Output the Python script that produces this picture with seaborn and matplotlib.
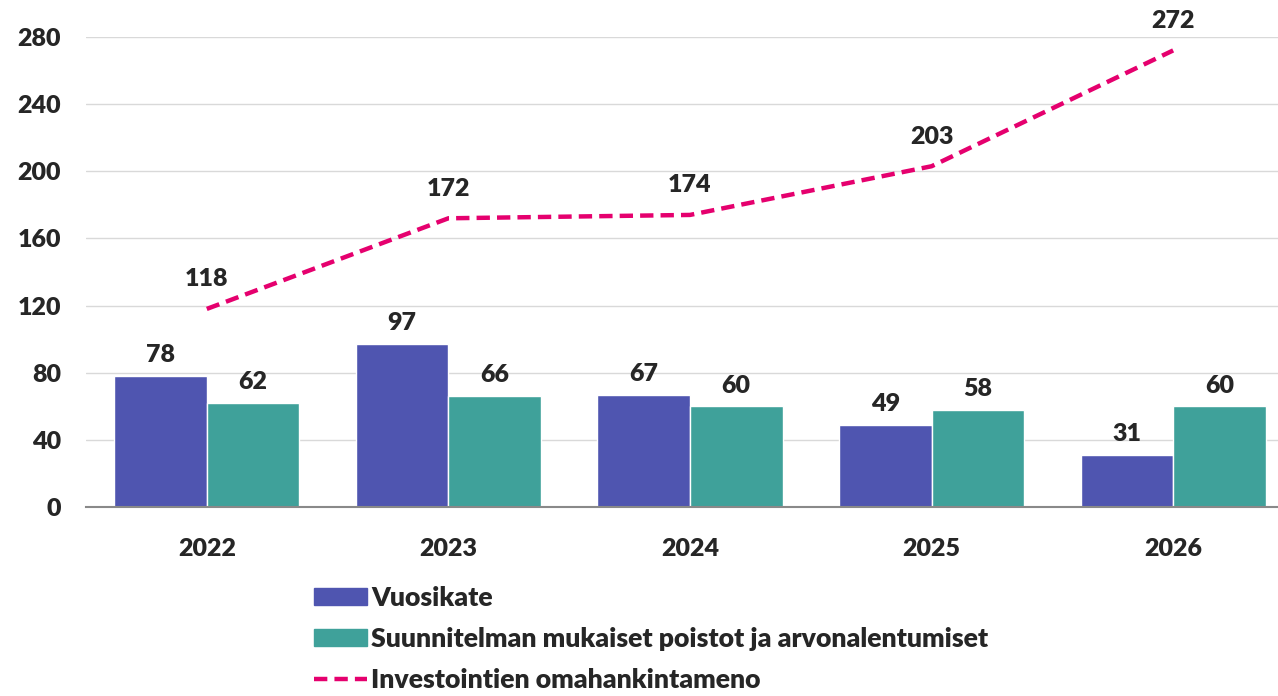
import matplotlib
matplotlib.use('Agg')
import matplotlib.pyplot as plt
from matplotlib.patches import Patch
from matplotlib.lines import Line2D
import seaborn as sns
import pandas as pd

# data
vuodet = ['2022', '2023', '2024', '2025', '2026']
vuosikate = [78, 97, 67, 49, 31]
poistot = [62, 66, 60, 58, 60]
investoinnit = [118, 172, 174, 203, 272]

sarjat = ['Vuosikate', 'Suunnitelman mukaiset poistot ja arvonalentumiset']
sarja_linja = 'Investointien omahankintameno'

c_vk = '#4F55B0'
c_po = '#3FA19A'
c_inv = '#E5006E'

sns.set_theme(style='white')
plt.rcParams['font.family'] = ['Lato', 'DejaVu Sans']
plt.rcParams['font.weight'] = 'heavy'

df = pd.DataFrame({
    'vuosi': vuodet * 2,
    'arvo': vuosikate + poistot,
    'sarja': [sarjat[0]] * 5 + [sarjat[1]] * 5,
})

fig = plt.figure(figsize=(12.78, 6.96), dpi=100)
ax = fig.add_axes([86 / 1278, 1 - 507 / 696, 1 - 86 / 1278, 470 / 696])

sns.barplot(data=df, x='vuosi', y='arvo', hue='sarja', hue_order=sarjat,
            palette=[c_vk, c_po], width=0.766, gap=0, saturation=1,
            legend=False, ax=ax, zorder=2)
sns.pointplot(x=vuodet, y=investoinnit, color=c_inv, linestyle=(0, (3, 1.6)),
              marker='', linewidth=3.2, errorbar=None, ax=ax, zorder=3)

# arvot
for cont in ax.containers:
    ax.bar_label(cont, fontsize=18, fontweight='heavy', padding=7)
for i, v in enumerate(investoinnit):
    ax.text(i, v + 11, str(v), ha='center', va='bottom',
            fontsize=18, fontweight='heavy', clip_on=False)

ax.set_ylim(0, 280)
ax.set_xlim(-0.5, 4.434)
ax.set_yticks(range(0, 281, 40))
ax.yaxis.grid(True, color='#D9D9D9', linewidth=1)
ax.set_axisbelow(True)
for s in ['top', 'right', 'left']:
    ax.spines[s].set_visible(False)
ax.spines['bottom'].set_color('#898989')
ax.spines['bottom'].set_linewidth(1.5)
ax.tick_params(axis='both', length=0, labelsize=18)
ax.tick_params(axis='x', pad=22)
ax.tick_params(axis='y', pad=18)
for t in ax.get_xticklabels() + ax.get_yticklabels():
    t.set_fontweight('heavy')
ax.set_xlabel('')
ax.set_ylabel('')

handles = [Patch(color=c_vk), Patch(color=c_po),
           Line2D([0], [0], color=c_inv, linewidth=3.2, linestyle=(0, (3, 1.6)))]
fig.legend(handles, sarjat + [sarja_linja], loc='upper left',
           bbox_to_anchor=(303 / 1278, 1 - 575 / 696), frameon=False,
           prop={'size': 19.2, 'weight': 'heavy'}, handlelength=2.0,
           handleheight=0.6, labelspacing=0.65, handletextpad=0.15,
           borderaxespad=0)

fig.savefig('out.png', dpi=100)
